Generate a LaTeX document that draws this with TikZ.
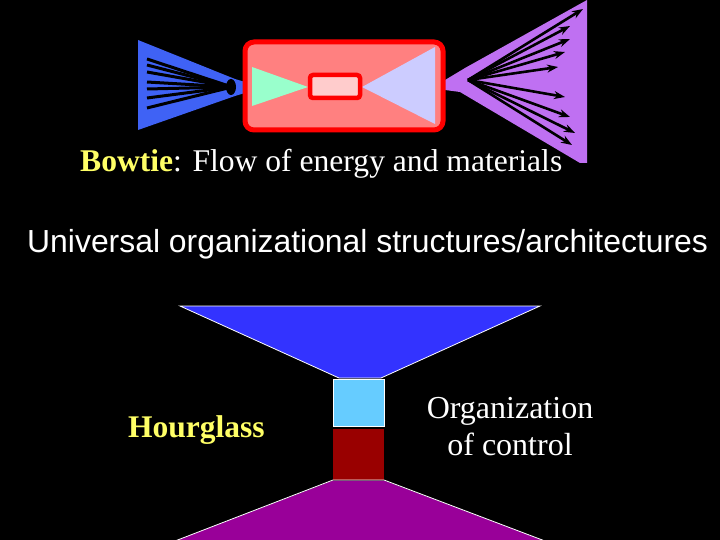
\documentclass[tikz,border=0pt]{standalone}
\usepackage{fontspec}
\setmainfont{Liberation Serif}
\newfontfamily\arialf{Liberation Sans}
\usetikzlibrary{arrows.meta}
\definecolor{fanblue}{HTML}{3F62F5}
\definecolor{boxred}{HTML}{FF8080}
\definecolor{mint}{HTML}{99FFCC}
\definecolor{lav}{HTML}{CCCCFF}
\definecolor{pinkbox}{HTML}{FFCCCC}
\definecolor{fanpurple}{HTML}{BF70F2}
\definecolor{hgblue}{HTML}{3333FF}
\definecolor{hglight}{HTML}{66CCFF}
\definecolor{hgred}{HTML}{990000}
\definecolor{hgpurple}{HTML}{990099}
\definecolor{ylw}{HTML}{FFFF66}
\tikzset{
  inline/.style={black, line width=3pt},
  outarrow/.style={black, line width=2.6pt, -{Stealth[length=11pt,width=8pt]}},
  hgshape/.style={draw=white, line width=0.8pt},
  txt/.style={inner sep=0pt, anchor=base west, text=white},
}
\begin{document}
\begin{tikzpicture}[x=1pt,y=-1pt]
\fill[black] (0,0) rectangle (720,540);
\useasboundingbox (0,0) rectangle (720,540);
% left fan
\fill[fanblue] (138,40) -- (235,79) -- (245,82) -- (245,93) -- (235,96) -- (138,130) -- cycle;
\foreach \yy in {59,65,72,82,89,98,108}
  \draw[inline] (147,\yy) -- (232,87);
\fill[black] (231,87) ellipse (5 and 8);
% right fan
\fill[fanpurple] (445,80) -- (465,68) -- (587,0) -- (587,163) -- (580,163) -- (460,92) -- (445,90) -- cycle;
\coordinate (src) at (468,80);
\foreach \ex/\ey in {583/9,570/26,570/39,565/52,558/67,565/97,570/117,575/133,572/145}
  \draw[outarrow] (src) -- (\ex,\ey);
% bowtie box
\draw[red, fill=boxred, line width=5pt, rounded corners=9pt] (245,42) rectangle (443,130);
\fill[mint] (252,67) -- (308,87) -- (252,106) -- cycle;
\fill[lav] (435,47) -- (362,87) -- (435,124) -- cycle;
\draw[red, fill=pinkbox, line width=4.5pt, rounded corners=3pt] (310,75) rectangle (360,98);
% texts
\node[txt, font=\fontsize{31.6}{36}\selectfont] (bowtie) at (80,172) {\textcolor{ylw}{\textbf{Bowtie}}: Flow of energy and materials};
\node[txt, font=\arialf\fontsize{31.9}{36}\selectfont] (univ) at (27,252) {Universal organizational structures/architectures};
% hourglass
\draw[hgshape, fill=hgblue] (180,306) -- (540,306) -- (381,378) -- (339,378) -- cycle;
\draw[hgshape, fill=hglight] (333,379) rectangle (384,426);
\fill[hgred] (333,429) rectangle (384,480);
\fill[hgpurple] (175,541) -- (333,480.5) -- (384,480.5) -- (545,541) -- cycle;
\draw[hgshape] (175,541) -- (333,480) -- (384,480) -- (545,541);
\node[txt, font=\fontsize{31.5}{36}\selectfont\bfseries, text=ylw] (hg) at (128,437) {Hourglass};
\node[inner sep=0pt, text=white, align=center, font=\fontsize{32}{37}\selectfont, anchor=center] (org) at (510,427) {Organization\\of control};
\end{tikzpicture}
\end{document}
